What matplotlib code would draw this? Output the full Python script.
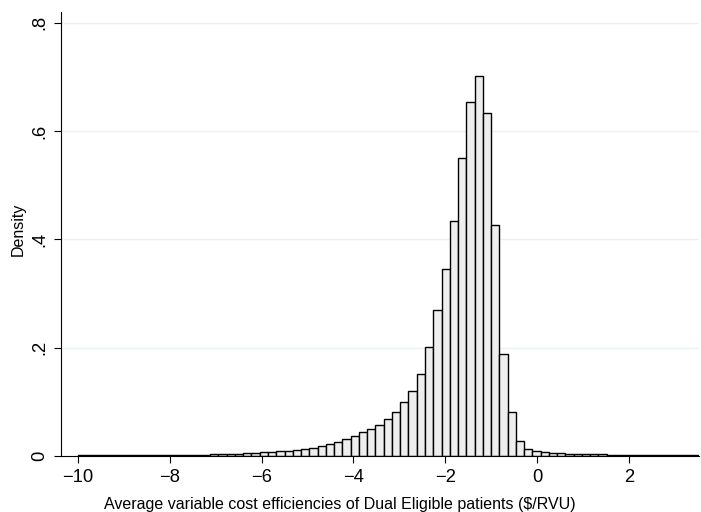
import numpy as np
import matplotlib
matplotlib.use("Agg")
import matplotlib.pyplot as plt

plt.rcParams['font.family'] = ['Liberation Sans', 'DejaVu Sans']

# Histogram of efficiencies: 75 equal-width bins on [-10, 3.5]
x_min = -10.0
x_max = 3.5
n_bins = 75
density = [
    0.0015, 0.0015, 0.0015, 0.0016, 0.0016, 0.0017, 0.0017, 0.0018, 0.0018, 0.0019,
    0.0019, 0.0020, 0.0020, 0.0021, 0.0022, 0.0025, 0.0030, 0.0040, 0.0043, 0.0045,
    0.0055, 0.0060, 0.0065, 0.0074, 0.0087, 0.0095, 0.0105, 0.0130, 0.0150, 0.0180,
    0.0220, 0.0260, 0.0310, 0.0370, 0.0450, 0.0500, 0.0580, 0.0690, 0.0820, 0.0990,
    0.1200, 0.1510, 0.2020, 0.2690, 0.3460, 0.4340, 0.5510, 0.6530, 0.7020, 0.6330,
    0.4260, 0.1890, 0.0820, 0.0280, 0.0135, 0.0098, 0.0074, 0.0058, 0.0050, 0.0043,
    0.0038, 0.0035, 0.0030, 0.0028, 0.0026, 0.0024, 0.0023, 0.0022, 0.0021, 0.0020,
    0.0019, 0.0018, 0.0017, 0.0016, 0.0015,
]
x_ticks = [-10, -8, -6, -4, -2, 0, 2]
x_tick_labels = ["\u221210", "\u22128", "\u22126", "\u22124", "\u22122", "0", "2"]
y_ticks = [0, 0.2, 0.4, 0.6, 0.8]
y_tick_labels = ["0", ".2", ".4", ".6", ".8"]

edges = np.linspace(x_min, x_max, n_bins + 1)
widths = np.diff(edges)

W, H = 701, 512
fig = plt.figure(figsize=(W / 100, H / 100), dpi=100)
ax = fig.add_axes([61 / W, (H - 456) / H, (699 - 61) / W, (456 - 12) / H])

for y in y_ticks[1:]:
    ax.axhline(y, color="#eaf2f3", linewidth=1.0, zorder=0)

ax.bar(edges[:-1], density, width=widths, align="edge",
       color="#eeeeee", edgecolor="black", linewidth=1.0, zorder=2)

ax.set_xlim(-10.37, 3.53)
ax.set_ylim(0, 0.82)

ax.set_xticks(x_ticks)
ax.set_xticklabels(x_tick_labels)
ax.set_yticks(y_ticks)
ax.set_yticklabels(y_tick_labels, rotation=90, va="center")

ax.tick_params(axis="both", direction="out", length=5, width=0.8,
               labelsize=13.2, color="black")
ax.tick_params(axis="x", pad=4)
ax.tick_params(axis="y", pad=4)

for side in ["top", "right"]:
    ax.spines[side].set_visible(False)
for side in ["left", "bottom"]:
    ax.spines[side].set_linewidth(0.8)

fig.text(340 / W, 3 / H,
         "Average variable cost efficiencies of Dual Eligible patients ($/RVU)",
         fontsize=11.5, ha="center", va="baseline")
fig.text(18 / W, (H - 229) / H, "Density", fontsize=11.5,
         rotation=90, ha="center", va="center")

fig.savefig("out.png", dpi=100, facecolor="white")
